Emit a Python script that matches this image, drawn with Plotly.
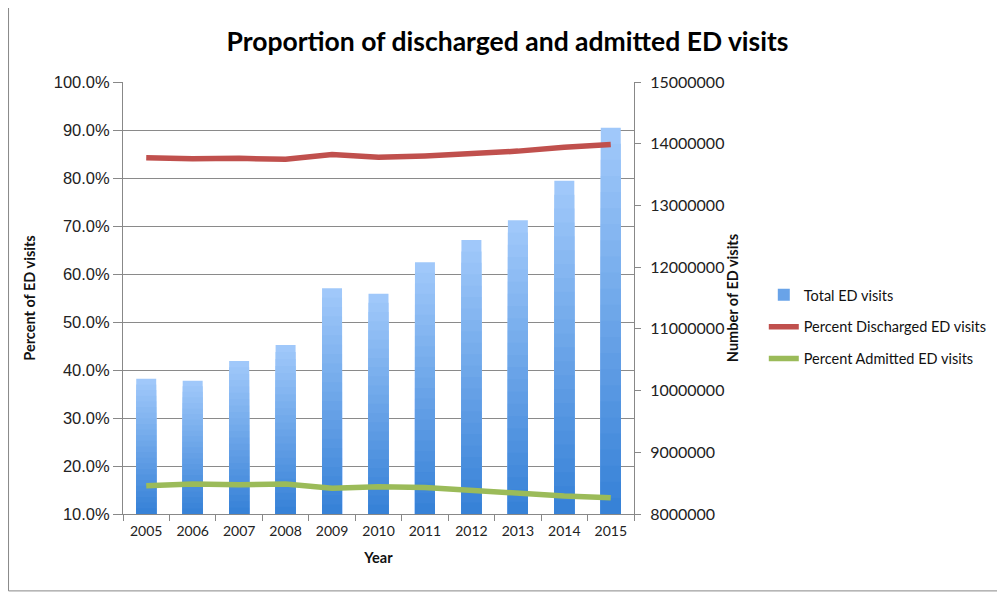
import plotly.graph_objects as go

years = ["2005", "2006", "2007", "2008", "2009", "2010", "2011", "2012", "2013", "2014", "2015"]
total_visits = [10190000, 10160000, 10480000, 10740000, 11660000, 11570000, 12080000, 12440000, 12760000, 13400000, 14260000]
pct_discharged = [0.842, 0.840, 0.841, 0.839, 0.849, 0.843, 0.846, 0.851, 0.856, 0.864, 0.870]
pct_admitted = [0.159, 0.1625, 0.161, 0.1625, 0.1535, 0.157, 0.155, 0.149, 0.144, 0.1375, 0.134]

right_base = 8000000
grad_top = (160, 200, 250)
grad_bottom = (55, 130, 215)
n_steps = 24

fig = go.Figure()

# gradient bars (stacked overlays, light at top -> dark at bottom)
for k in range(n_steps):
    f = 1 - k / n_steps
    t = k / (n_steps - 1)
    c = tuple(round(grad_top[i] + (grad_bottom[i] - grad_top[i]) * t) for i in range(3))
    fig.add_trace(go.Bar(
        x=years,
        y=[(v - right_base) * f for v in total_visits],
        base=right_base,
        marker=dict(color="rgb(%d,%d,%d)" % c, line=dict(width=0)),
        width=0.43,
        name="Total ED visits",
        legendgroup="a",
        showlegend=(k == n_steps // 2),
        yaxis="y",
        hoverinfo="skip" if k else None,
    ))

fig.add_trace(go.Scatter(
    x=years, y=pct_discharged, mode="lines", name="Percent Discharged ED visits",
    line=dict(color="#c0504d", width=5.5), yaxis="y2", legendgroup="b",
))
fig.add_trace(go.Scatter(
    x=years, y=pct_admitted, mode="lines", name="Percent Admitted ED visits",
    line=dict(color="#9bbb59", width=5.5), yaxis="y2", legendgroup="c",
))

left_tick_font = dict(family="Liberation Sans, Arial, sans-serif", size=16.5, color="#222")
right_tick_font = dict(family="Lato, Open Sans, sans-serif", size=16, color="#222")
title_font = dict(family="Lato, Open Sans, sans-serif", size=14.5, color="#111")

fig.update_layout(
    width=1005, height=593,
    paper_bgcolor="white", plot_bgcolor="white",
    margin=dict(l=115, r=379, t=74, b=87),
    barmode="overlay",
    title=dict(text="<b>Proportion of discharged and admitted ED visits</b>",
               x=0.497, xanchor="center", y=0.943, yanchor="middle",
               font=dict(family="Lato, Open Sans, sans-serif", size=26.5, color="#000")),
    xaxis=dict(
        type="category", showline=True, linecolor="#888", linewidth=1,
        ticks="outside", tickson="boundaries", ticklen=6, tickcolor="#888",
        tickfont=dict(family="Lato, Open Sans, sans-serif", size=14, color="#222"),
        ticklabelstandoff=4,
        title=dict(text="<b>Year</b>", font=title_font, standoff=15),
        showgrid=False, mirror=False,
    ),
    yaxis=dict(
        side="right", range=[8000000, 15000000], dtick=1000000, tickformat="d",
        showgrid=False, showline=True, linecolor="#888", linewidth=1,
        ticks="outside", ticklen=6, tickcolor="#888", tickfont=right_tick_font,
        ticklabelstandoff=6,
        title=dict(text="<b>Number of ED visits</b>", font=title_font, standoff=0),
        zeroline=False,
    ),
    yaxis2=dict(
        overlaying="y", side="left", range=[0.1, 1.0], dtick=0.1, tick0=0.1,
        tickformat=".1%", showgrid=True, gridcolor="#8a8a8a", gridwidth=1,
        showline=True, linecolor="#888", linewidth=1,
        ticks="outside", ticklen=9, tickcolor="#888", tickfont=left_tick_font,
        title=dict(text="<b>Percent of ED visits</b>", font=title_font, standoff=14),
        zeroline=False,
    ),
    legend=dict(
        x=1.254, y=0.433, xanchor="left", yanchor="middle",
        traceorder="grouped", tracegroupgap=10,
        font=dict(family="Lato, Open Sans, sans-serif", size=14.5, color="#111"),
        bgcolor="rgba(0,0,0,0)", itemwidth=30,
    ),
    shapes=[dict(type="rect", xref="paper", yref="paper",
                 x0=-0.224, x1=1.718, y0=-0.178, y1=1.1725,
                 line=dict(color="#888", width=1), fillcolor="rgba(0,0,0,0)", layer="below")],
    showlegend=True,
)

fig.write_html("out.html")
